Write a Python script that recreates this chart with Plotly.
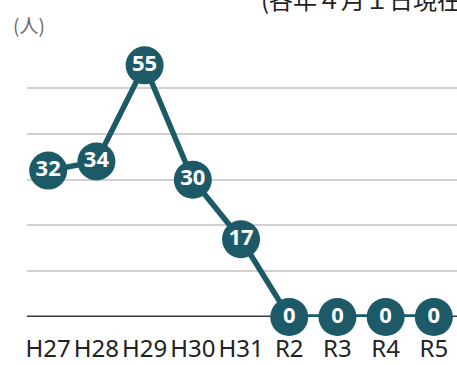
import plotly.graph_objects as go

# Number of people (as of April 1 each year)
years = ["H27", "H28", "H29", "H30", "H31", "R2", "R3", "R4", "R5"]
people = [32, 34, 55, 30, 17, 0, 0, 0, 0]
y_ticks = [0, 10, 20, 30, 40, 50, 60]

teal = "#1d5a67"

fig = go.Figure()
fig.add_trace(go.Scatter(
    x=list(range(len(years))),
    y=people,
    mode="lines+markers+text",
    line=dict(color=teal, width=5.5),
    marker=dict(size=38, color=teal, line=dict(width=0)),
    text=[str(v) for v in people],
    textposition="middle center",
    textfont=dict(family="Noto Sans", size=22, color="white", weight="bold"),
    cliponaxis=False,
    hoverinfo="skip",
))

# dark baseline at zero
fig.add_shape(type="line", xref="paper", yref="y", x0=0, x1=1, y0=0, y1=0,
              line=dict(color="#3a3a3a", width=3), layer="below")

fig.add_annotation(text="(人)", xref="paper", yref="paper", x=0.005, y=1.065,
                   xanchor="center", yanchor="middle", showarrow=False,
                   font=dict(family="Noto Sans CJK JP", size=19, color="#6a6a6a"))
fig.add_annotation(text="(各年４月１日現在)", xref="paper", yref="paper", x=0.54, y=1.158,
                   xanchor="left", yanchor="middle", showarrow=False,
                   font=dict(family="Noto Sans CJK JP", size=24, color="#222222"))

fig.update_layout(
    width=457, height=365,
    margin=dict(l=27, r=0, t=42, b=48),
    paper_bgcolor="white", plot_bgcolor="white",
    showlegend=False,
    xaxis=dict(
        tickmode="array", tickvals=list(range(len(years))), ticktext=years,
        range=[-0.44, 8.48], showgrid=False, zeroline=False, showline=False,
        ticks="", ticklabelstandoff=15, tickangle=0, automargin=False,
        tickfont=dict(family="Noto Sans", size=24, color="#222222"),
    ),
    yaxis=dict(
        range=[0, 60.1], tickvals=y_ticks, showticklabels=False,
        showgrid=True, gridcolor="#d0d0d0", gridwidth=2,
        zeroline=False, showline=False, ticks="", automargin=False,
    ),
)

fig.write_html("out.html")
